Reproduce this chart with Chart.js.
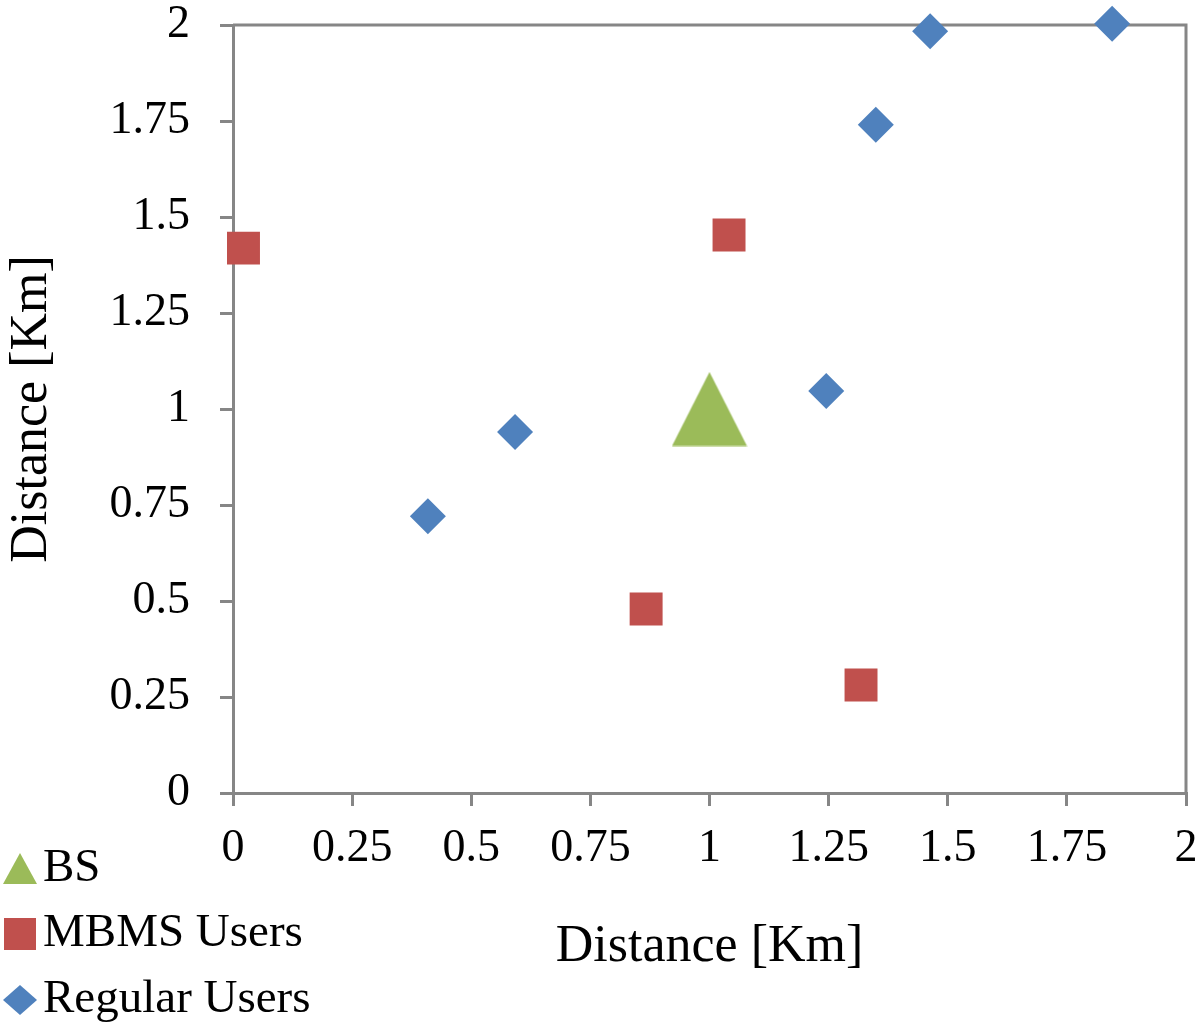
<!DOCTYPE html>
<html>
<head>
<meta charset="utf-8">
<script src="https://cdn.jsdelivr.net/npm/chart.js@4/dist/chart.umd.min.js"></script>
<style>
  html, body { margin: 0; padding: 0; background: #fff; }
  #wrap { width: 1200px; height: 1026px; position: relative; }
</style>
</head>
<body>
<div id="wrap"><canvas id="scatterChart"></canvas></div>
<script>
// Dati (km)
const seriesNames = ['BS', 'MBMS Users', 'Regular Users'];

const bsX = [1.0];
const bsY = [1.0];

const mbmsX = [0.022, 1.041, 0.867, 1.318];
const mbmsY = [1.419, 1.453, 0.479, 0.281];

const regularX = [0.409, 0.592, 1.245, 1.349, 1.463, 1.845];
const regularY = [0.721, 0.940, 1.047, 1.740, 1.984, 2.003];

const tickValues = [0, 0.25, 0.5, 0.75, 1, 1.25, 1.5, 1.75, 2];
const tickLabels = ['0', '0.25', '0.5', '0.75', '1', '1.25', '1.5', '1.75', '2'];

const FONT = "'Liberation Serif', 'DejaVu Serif', serif";
const AXIS_GREY = '#868686';
const GREEN = '#9BBB59';
const RED = '#C0504D';
const BLUE = '#4F81BD';

// triangolo stile Excel (isoscele, non equilatero) disegnato su un canvas
const makeTriangle = (w, h, color) => {
    const c = document.createElement('canvas');
    c.width = w; c.height = h;
    const g = c.getContext('2d');
    g.fillStyle = color;
    g.beginPath();
    g.moveTo(w / 2, 0.5);
    g.lineTo(w - 0.5, h - 0.5);
    g.lineTo(0.5, h - 0.5);
    g.closePath();
    g.fill();
    return c;
};

const toPoints = (xs, ys) => xs.map((x, i) => ({ x: x, y: ys[i] }));

// cornice superiore e destra dell'area del grafico
const plotFrame = {
    id: 'plotFrame',
    beforeDatasetsDraw(chart) {
        const { ctx, chartArea: a } = chart;
        ctx.save();
        ctx.strokeStyle = AXIS_GREY;
        ctx.lineWidth = 3;
        ctx.beginPath();
        ctx.moveTo(a.left, a.top);
        ctx.lineTo(a.right, a.top);
        ctx.lineTo(a.right, a.bottom);
        ctx.stroke();
        ctx.restore();
    }
};

// legenda verticale in basso a sinistra
const cornerLegend = {
    id: 'cornerLegend',
    afterDraw(chart) {
        const ctx = chart.ctx;
        const rows = [869, 934, 1000];
        const cx = 20;
        ctx.save();
        chart.data.datasets.forEach((ds, i) => {
            const y = rows[i];
            ctx.fillStyle = ds.backgroundColor;
            ctx.beginPath();
            if (i === 0) {
                ctx.moveTo(cx, y - 16);
                ctx.lineTo(cx + 17, y + 15);
                ctx.lineTo(cx - 17, y + 15);
            } else if (i === 1) {
                ctx.rect(cx - 16, y - 16, 32, 32);
            } else {
                ctx.moveTo(cx, y - 15);
                ctx.lineTo(cx + 17, y);
                ctx.lineTo(cx, y + 15);
                ctx.lineTo(cx - 17, y);
            }
            ctx.closePath();
            ctx.fill();
            ctx.fillStyle = '#000';
            ctx.font = '47px ' + FONT;
            ctx.textAlign = 'left';
            ctx.textBaseline = 'middle';
            ctx.fillText(ds.label, 43, y);
        });
        ctx.restore();
    }
};

const ctx = document.getElementById('scatterChart');
new Chart(ctx, {
    type: 'scatter',
    data: {
        datasets: [
            {
                label: seriesNames[0],
                data: toPoints(bsX, bsY),
                backgroundColor: GREEN,
                pointStyle: makeTriangle(76, 75, GREEN),
                pointRadius: 38,
                pointBorderWidth: 0,
                clip: false
            },
            {
                label: seriesNames[1],
                data: toPoints(mbmsX, mbmsY),
                backgroundColor: RED,
                pointStyle: 'rect',
                pointRadius: 23.3,
                pointBorderWidth: 0,
                clip: false
            },
            {
                label: seriesNames[2],
                data: toPoints(regularX, regularY),
                backgroundColor: BLUE,
                pointStyle: 'rectRot',
                pointRadius: 18,
                pointBorderWidth: 0,
                clip: false
            }
        ]
    },
    options: {
        responsive: true,
        maintainAspectRatio: false,
        animation: false,
        layout: {
            autoPadding: false, // niente margine extra per i marcatori grandi
            padding: { top: 25, right: 14, left: 0, bottom: 0 }
        },
        plugins: {
            legend: { display: false },
            tooltip: { enabled: false }
        },
        scales: {
            x: {
                type: 'linear',
                position: 'bottom',
                min: 0,
                max: 2,
                afterBuildTicks: s => { s.ticks = tickValues.map(v => ({ value: v })); },
                afterFit: s => { s.height = 233; s.paddingLeft = 0; s.paddingRight = 0; },
                border: { display: true, color: AXIS_GREY, width: 3 },
                grid: { drawOnChartArea: false, drawTicks: true, tickLength: 13, color: AXIS_GREY, lineWidth: 3 },
                ticks: {
                    color: '#000',
                    font: { family: FONT, size: 46 },
                    padding: 15,
                    maxRotation: 0,
                    autoSkip: false,
                    callback: (v, i) => tickLabels[i]
                },
                title: {
                    display: true,
                    text: 'Distance [Km]',
                    color: '#000',
                    font: { family: FONT, size: 52 },
                    padding: { top: 0, bottom: 47 }
                }
            },
            y: {
                type: 'linear',
                position: 'left',
                min: 0,
                max: 2,
                afterBuildTicks: s => { s.ticks = tickValues.map(v => ({ value: v })); },
                afterFit: s => { s.width = 233; s.paddingTop = 0; s.paddingBottom = 0; },
                border: { display: true, color: AXIS_GREY, width: 3 },
                grid: { drawOnChartArea: false, drawTicks: true, tickLength: 13, color: AXIS_GREY, lineWidth: 3 },
                ticks: {
                    color: '#000',
                    font: { family: FONT, size: 46 },
                    padding: 30,
                    autoSkip: false,
                    callback: (v, i) => tickLabels[i]
                },
                title: {
                    display: true,
                    text: 'Distance [Km]',
                    color: '#000',
                    font: { family: FONT, size: 52 },
                    padding: { top: 1, bottom: 0 }
                }
            }
        }
    },
    plugins: [plotFrame, cornerLegend]
});
</script>
</body>
</html>
